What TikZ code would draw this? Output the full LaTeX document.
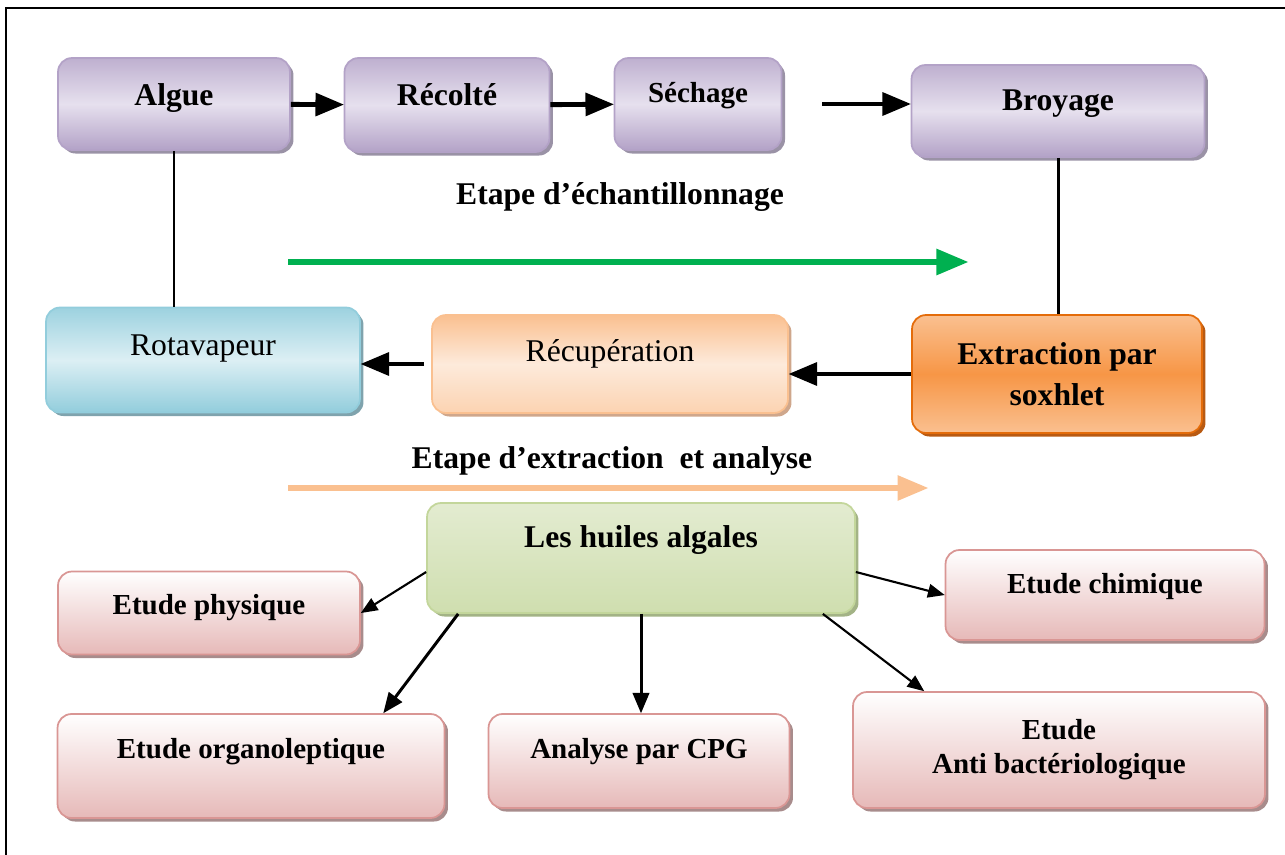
\documentclass[tikz,border=0pt]{standalone}
\usepackage{fontspec}
\setmainfont{Liberation Serif}
\usetikzlibrary{arrows,shadows}

\definecolor{lilac}{HTML}{B3A2C7}
\definecolor{lilaclight}{HTML}{E6E0EE}
\definecolor{lilacshadow}{HTML}{9A92A6}
\definecolor{sky}{HTML}{92CDDC}
\definecolor{skylight}{HTML}{DCEFF4}
\definecolor{skyshadow}{HTML}{7FA3AD}
\definecolor{peach}{HTML}{FAC090}
\definecolor{peachlight}{HTML}{FDEADB}
\definecolor{peachshadow}{HTML}{CFA78C}
\definecolor{tangerine}{HTML}{F79646}
\definecolor{tangerineline}{HTML}{E46C0A}
\definecolor{tangerineshadow}{HTML}{B85A12}
\definecolor{moss}{HTML}{C3D69B}
\definecolor{mosslight}{HTML}{EBF1DE}
\definecolor{mossshadow}{HTML}{A3B386}
\definecolor{rose}{HTML}{E6B9B8}
\definecolor{roseline}{HTML}{D99694}
\definecolor{roseshadow}{HTML}{A88C8C}
\definecolor{leaf}{HTML}{00B050}

\begin{document}
\begin{tikzpicture}[x=0.02cm,y=-0.02cm,>=triangle 45,
                    box/.style={rectangle,rounded corners=0.28cm,line width=1pt,align=center,inner sep=2pt},
                    lift/.style={text height=12pt,text depth=#1},
                    large text/.style={font=\bfseries\fontsize{18}{23}\selectfont},
                    small text/.style={font=\bfseries\fontsize{16.5}{19.5}\selectfont},
                    plain text/.style={font=\fontsize{18}{22}\selectfont},
                    lilac node/.style={box,draw=lilac,top color=lilac!85,bottom color=lilac,middle color=lilaclight,
                      drop shadow={shadow xshift=2pt,shadow yshift=-2pt,fill=lilacshadow,opacity=1}},
                    sky node/.style={box,draw=sky,top color=sky!90,bottom color=sky,middle color=skylight,
                      drop shadow={shadow xshift=2pt,shadow yshift=-2pt,fill=skyshadow,opacity=1}},
                    peach node/.style={box,draw=peach,top color=peach,bottom color=peach!70,middle color=peachlight,
                      drop shadow={shadow xshift=2pt,shadow yshift=-2pt,fill=peachshadow,opacity=1}},
                    soxhlet node/.style={box,draw=tangerineline,top color=peach,bottom color=peach,middle color=tangerine,
                      drop shadow={shadow xshift=2pt,shadow yshift=-2pt,fill=tangerineshadow,opacity=1}},
                    moss node/.style={box,draw=moss,top color=mosslight!80!moss,bottom color=moss!80,
                      drop shadow={shadow xshift=2pt,shadow yshift=-2pt,fill=mossshadow,opacity=1}},
                    rose node/.style={box,small text,draw=roseline,top color=white,bottom color=rose,
                      drop shadow={shadow xshift=2pt,shadow yshift=-2pt,fill=roseshadow,opacity=1}}]
  \useasboundingbox (0,0) rectangle (1285,855);
  \draw[line width=1.1pt] (1285,8) -- (6,8) -- (6,855);

  % echantillonnage
  \node[lilac node,large text,lift=0.36cm,minimum width=4.64cm,minimum height=1.84cm] (algue) at (174,104) {Algue};
  \node[lilac node,large text,lift=0.40cm,minimum width=4.10cm,minimum height=1.88cm] (recolte) at (447,105) {Récolté};
  \node[lilac node,small text,lift=0.48cm,minimum width=3.34cm,minimum height=1.84cm] (sechage) at (698,104) {Séchage};
  \node[lilac node,large text,lift=0.44cm,minimum width=5.86cm,minimum height=1.84cm] (broyage) at (1058,111) {Broyage};
  \node[large text] (echant) at (620,197) {Etape d’échantillonnage};

  % extraction
  \node[sky node,plain text,lift=0.60cm,minimum width=6.28cm,minimum height=2.10cm] (rota) at (203,360) {Rotavapeur};
  \node[peach node,plain text,lift=0.52cm,minimum width=7.12cm,minimum height=1.96cm] (recup) at (610,364) {Récupération};
  \node[soxhlet node,large text,minimum width=5.80cm,minimum height=2.36cm] (soxhlet) at (1057,374) {Extraction par\\soxhlet};
  \node[large text] (extr) at (612,461) {Etape d’extraction\ \ et analyse};

  % analyses
  \node[moss node,large text,lift=0.84cm,minimum width=8.56cm,minimum height=2.20cm] (huiles) at (641,558) {Les huiles algales};
  \node[rose node,lift=0.38cm,minimum width=6.04cm,minimum height=1.66cm] (physique) at (209,613) {Etude physique};
  \node[rose node,lift=0.48cm,minimum width=6.38cm,minimum height=1.80cm] (chimique) at (1105,595) {Etude chimique};
  \node[rose node,lift=0.72cm,minimum width=7.74cm,minimum height=2.08cm] (organo) at (251,766) {Etude organoleptique};
  \node[rose node,lift=0.52cm,minimum width=6.02cm,minimum height=1.88cm] (cpg) at (639,761) {Analyse par CPG};
  \node[rose node,minimum width=8.24cm,minimum height=2.32cm] (anti) at (1059,750) {Etude\\Anti bactériologique};

  \coordinate (g1) at (288,262);
  \coordinate (g2) at (968,262);
  \coordinate (o1) at (288,488);
  \coordinate (o2) at (928,488);

  \path[->,line width=2.8pt]
    (algue) edge (recolte)
    (recolte) edge (sechage)
    ([xshift=0.8cm]sechage.east) edge (broyage.west |- sechage.east)
    (soxhlet.west) edge (recup.east |- soxhlet.west)
    ([xshift=-0.14cm]recup.west) edge (rota.east |- recup.west);
  \path[line width=1.7pt]
    (algue.south) edge (algue.south |- rota.north)
    (broyage.south) edge (broyage.south |- soxhlet.north);
  \draw[->,leaf,line width=3.3pt] (g1) -- (g2);
  \draw[->,peach,line width=3.1pt] (o1) -- (o2);
  \path[->,line width=1.2pt]
    ([yshift=-0.28cm]huiles.west) edge (physique.east)
    ([yshift=-0.28cm]huiles.east) edge (chimique.west)
    ([xshift=-0.66cm]huiles.south east) edge ([xshift=1.44cm]anti.north west);
  \path[->,line width=1.7pt]
    ([xshift=0.64cm]huiles.south west) edge ([xshift=-1.24cm]organo.north east)
    (huiles.south) edge (huiles.south |- cpg.north);
\end{tikzpicture}
\end{document}
